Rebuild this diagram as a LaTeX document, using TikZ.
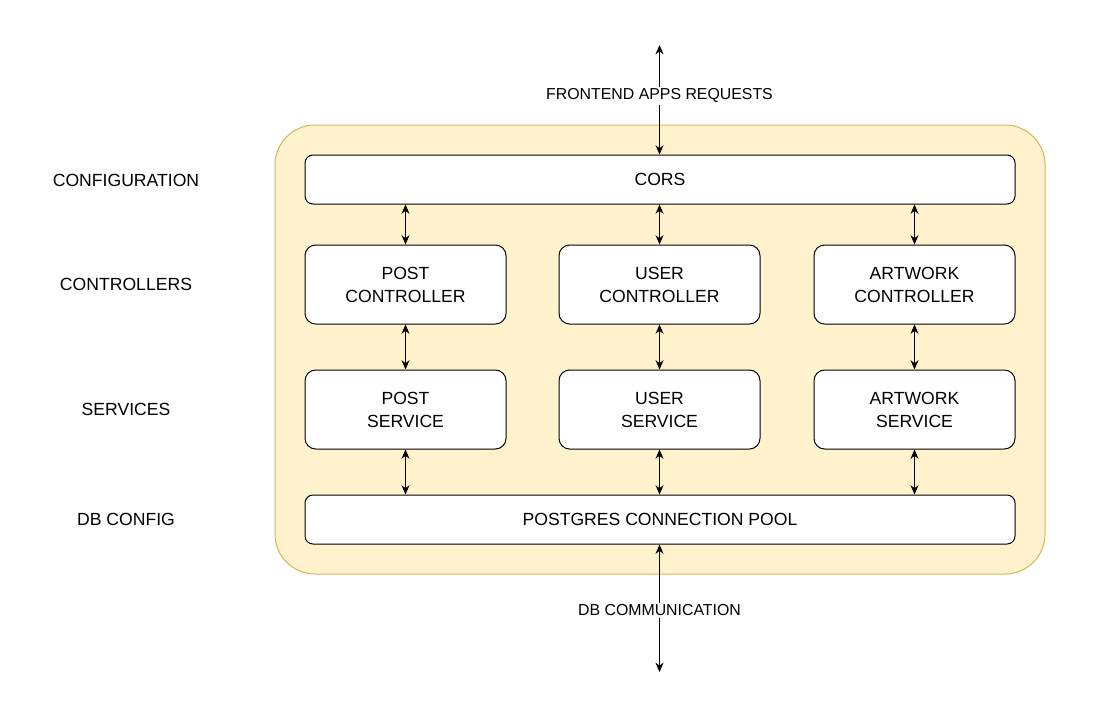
\documentclass[tikz,border=0pt]{standalone}
\usepackage{fontspec}
\setmainfont{Liberation Sans}
\usetikzlibrary{arrows.meta}

\definecolor{panelfill}{HTML}{FFF2CC}
\definecolor{paneldraw}{HTML}{D6B656}

\begin{document}
\begin{tikzpicture}[x=0.75pt,y=-0.75pt,
	every node/.style={black,font=\fontsize{13.2}{17.25}\selectfont},
	layer/.style={draw,fill=white,rounded corners=6pt,line width=0.75pt,minimum width=532.5pt,minimum height=36.75pt,inner sep=0pt},
	part/.style={draw,fill=white,rounded corners=8pt,line width=0.75pt,minimum width=150.75pt,minimum height=59.25pt,align=center,inner sep=0pt},
	link/.style={{Stealth[length=7pt,width=6pt]}-{Stealth[length=7pt,width=6pt]},line width=0.75pt},
	edgetext/.style={fill=white,inner sep=1.5pt,font=\fontsize{11.9}{14}\selectfont}]
	\useasboundingbox (0,0) rectangle (1105,700);
	% container
	\draw[fill=panelfill,draw=paneldraw,line width=0.75pt,rounded corners=30pt] (275,125) rectangle (1045,574);
	% layer names
	\node (cfg) at (126,180) {CONFIGURATION};
	\node (ctl) at (126,284) {CONTROLLERS};
	\node (srv) at (126,409) {SERVICES};
	\node (dbc) at (126,519) {DB CONFIG};
	% boxes
	\node[layer] (cors) at (660,179.5) {CORS};
	\node[part] (postc) at (405.5,284.5) {POST\\CONTROLLER};
	\node[part] (userc) at (659.5,284.5) {USER\\CONTROLLER};
	\node[part] (artc) at (914.5,284.5) {ARTWORK\\CONTROLLER};
	\node[part] (posts) at (405.5,409.5) {POST\\SERVICE};
	\node[part] (users) at (659.5,409.5) {USER\\SERVICE};
	\node[part] (arts) at (914.5,409.5) {ARTWORK\\SERVICE};
	\node[layer] (pool) at (660,519.5) {POSTGRES CONNECTION POOL};
	% outside ends
	\coordinate (top) at (659.5,45);
	\coordinate (bottom) at (659.5,672);
	% connectors
	\draw[link] (cors.north -| userc) -- node[edgetext,pos=0.536] {FRONTEND APPS REQUESTS} (top);
	\draw[link] (pool.south -| users) -- node[edgetext,pos=0.516] {DB COMMUNICATION} (bottom);
	\foreach \c/\s in {postc/posts,userc/users,artc/arts} {
		\draw[link] (cors.south -| \c) -- (\c.north);
		\draw[link] (\c.south) -- (\s.north);
		\draw[link] (\s.south) -- (pool.north -| \s);
	}
\end{tikzpicture}
\end{document}
